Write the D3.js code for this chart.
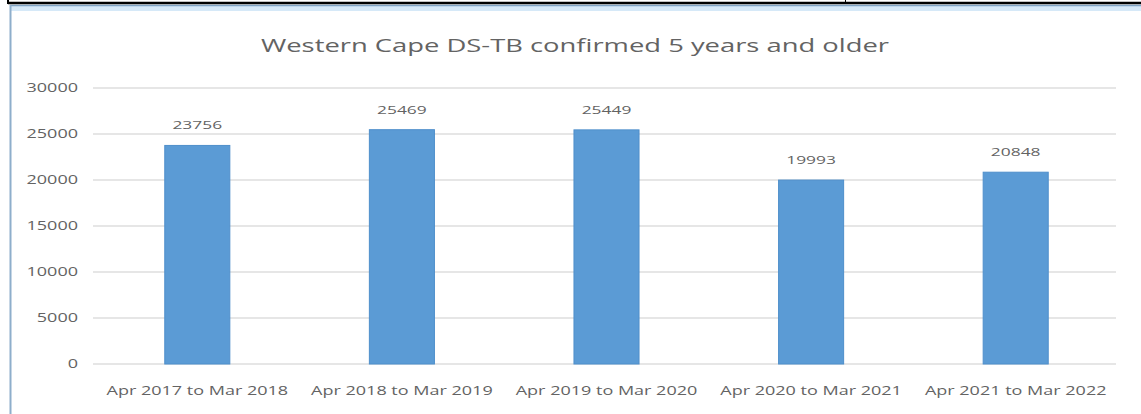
<!DOCTYPE html>
<html>
<head>
<meta charset="utf-8">
<script src="https://cdn.jsdelivr.net/npm/d3@7"></script>
<style>
  html, body { margin: 0; padding: 0; background: #ffffff; }
  svg { display: block; }
  text { font-family: "Open Sans", "Liberation Sans", sans-serif; fill: #636363; }
</style>
</head>
<body>
<svg id="chart" width="1141" height="414"></svg>
<script>
const title = "Western Cape DS-TB confirmed 5 years and older";
const categories = ["Apr 2017 to Mar 2018", "Apr 2018 to Mar 2019", "Apr 2019 to Mar 2020", "Apr 2020 to Mar 2021", "Apr 2021 to Mar 2022"];
const values = [23756, 25469, 25449, 19993, 20848];
const yTicks = [0, 5000, 10000, 15000, 20000, 25000, 30000];

const W = 1141, H = 414;
const svg = d3.select("#chart");

// frame: top black rule and blue chart border
svg.append("rect").attr("x", 0).attr("y", 0).attr("width", W).attr("height", H).attr("fill", "#ffffff");
svg.append("rect").attr("x", 10).attr("y", 5).attr("width", W - 10).attr("height", 6).attr("fill", "#d6e9f8");
svg.append("line").attr("x1", 10).attr("x2", W).attr("y1", 5.5).attr("y2", 5.5).attr("stroke", "#7fa3c4").attr("stroke-width", 1.5);
svg.append("line").attr("x1", 10.5).attr("x2", 10.5).attr("y1", 5).attr("y2", H).attr("stroke", "#8eaecb").attr("stroke-width", 2);
svg.append("line").attr("x1", 8).attr("x2", W).attr("y1", 3).attr("y2", 3).attr("stroke", "#000").attr("stroke-width", 2.5);
svg.append("line").attr("x1", 8).attr("x2", 8).attr("y1", 0).attr("y2", 4).attr("stroke", "#000").attr("stroke-width", 2);
svg.append("line").attr("x1", 845.5).attr("x2", 845.5).attr("y1", 0).attr("y2", 4).attr("stroke", "#000").attr("stroke-width", 1);

const x = d3.scaleBand().domain(categories).range([95, 1118]).paddingInner(0.682).paddingOuter(0.341);
const y = d3.scaleLinear().domain([0, 30000]).range([364, 88]);

function stretch(sel, factor) {
  sel.each(function () {
    const len = this.getComputedTextLength();
    d3.select(this).attr("textLength", len * factor).attr("lengthAdjust", "spacingAndGlyphs");
  });
}

// gridlines
svg.append("g").selectAll("line").data(yTicks).join("line")
  .attr("x1", 93).attr("x2", 1116)
  .attr("y1", d => y(d)).attr("y2", d => y(d))
  .attr("stroke", "#dedede").attr("stroke-width", 1.5);

// y axis
const yAxis = svg.append("g").attr("transform", "translate(84,0)")
  .call(d3.axisLeft(y).tickValues(yTicks).tickSize(0).tickPadding(6).tickFormat(d3.format("d")));
yAxis.select(".domain").remove();
yAxis.selectAll("text").style("font-family", "'Open Sans', sans-serif").style("font-size", "12px").attr("fill", "#636363");
stretch(yAxis.selectAll("text"), 1.5);

// x axis
const xAxis = svg.append("g").attr("transform", "translate(0,364)")
  .call(d3.axisBottom(x).tickSize(0).tickPadding(22));
xAxis.select(".domain").remove();
xAxis.selectAll("text").style("font-family", "'Open Sans', sans-serif").style("font-size", "12px").attr("fill", "#636363");
stretch(xAxis.selectAll("text"), 1.5);

// bars
svg.append("g").selectAll("rect").data(values).join("rect")
  .attr("x", (d, i) => x(categories[i]))
  .attr("width", x.bandwidth())
  .attr("y", d => y(d))
  .attr("height", d => y(0) - y(d))
  .attr("fill", "#5b9bd5")
  .attr("stroke", "#4f8fcb").attr("stroke-width", 1);

// data labels
const labels = svg.append("g").selectAll("text").data(values).join("text")
  .attr("x", (d, i) => x(categories[i]) + x.bandwidth() / 2)
  .attr("y", d => y(d) - 16)
  .attr("text-anchor", "middle")
  .style("font-size", "11px")
  .text(d => d);
stretch(labels, 1.58);

// title
const t = svg.append("text").attr("x", 575).attr("y", 52).attr("text-anchor", "middle")
  .style("font-size", "19px").text(title);
stretch(t, 1.44);
</script>
</body>
</html>
